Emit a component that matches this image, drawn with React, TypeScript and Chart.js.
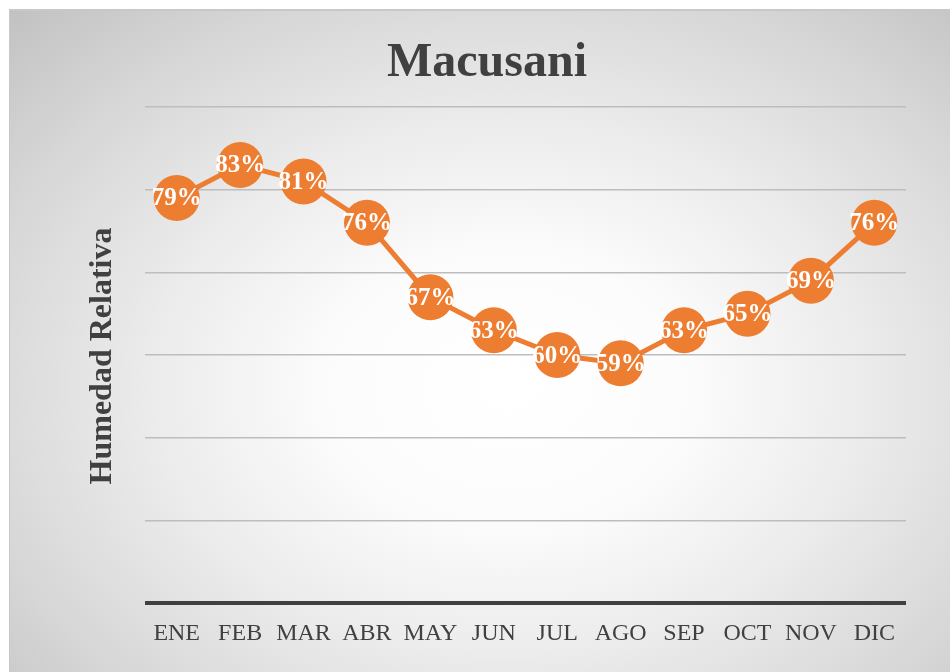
import React, { useEffect, useRef } from "react";
import { Chart, registerables } from "chart.js";

Chart.register(...registerables);

const months = ["ENE", "FEB", "MAR", "ABR", "MAY", "JUN", "JUL", "AGO", "SEP", "OCT", "NOV", "DIC"];
const humidity = [79, 83, 81, 76, 67, 63, 60, 59, 63, 65, 69, 76];
const chartTitle = "Macusani";
const yTitle = "Humedad Relativa";
const yMin = 30;
const yMax = 90;
const yStep = 10;

const ORANGE = "#ED7D31";
const TEXT = "#404040";
const SERIF = "'Liberation Serif', 'Times New Roman', serif";

const overlayPlugin = {
  id: "overlay",
  afterDatasetsDraw(chart: any) {
    const ctx = chart.ctx;
    const meta = chart.getDatasetMeta(0);
    ctx.save();
    ctx.fillStyle = "#ffffff";
    ctx.font = `bold 25px ${SERIF}`;
    ctx.textAlign = "center";
    ctx.textBaseline = "middle";
    meta.data.forEach((pt: any, i: number) => {
      ctx.fillText(`${humidity[i]}%`, pt.x, pt.y + 1);
    });
    ctx.restore();
  },
  afterDraw(chart: any) {
    const ctx = chart.ctx;
    ctx.save();
    ctx.fillStyle = TEXT;
    ctx.textAlign = "center";
    ctx.textBaseline = "alphabetic";
    ctx.font = `bold 48px ${SERIF}`;
    ctx.fillText(chartTitle, 487, 76);
    ctx.translate(111, 356);
    ctx.rotate(-Math.PI / 2);
    ctx.font = `bold 32px ${SERIF}`;
    ctx.fillText(yTitle, 0, 0);
    ctx.restore();
  },
};

export default function App() {
  const ref = useRef<HTMLCanvasElement | null>(null);
  useEffect(() => {
    if (!ref.current) return;
    const chart = new Chart(ref.current, {
      type: "line",
      data: {
        labels: months,
        datasets: [
          {
            data: humidity,
            borderColor: ORANGE,
            backgroundColor: ORANGE,
            borderWidth: 5,
            pointRadius: 23,
            pointHoverRadius: 23,
            pointBackgroundColor: ORANGE,
            pointBorderWidth: 0,
            tension: 0,
          },
        ],
      },
      options: {
        responsive: false,
        animation: false,
        devicePixelRatio: 1,
        layout: { padding: { left: 145, right: 44, top: 107, bottom: 8 } },
        plugins: {
          legend: { display: false },
          title: { display: false },
          tooltip: { enabled: false },
        },
        scales: {
          x: {
            offset: true,
            grid: { display: false, drawTicks: false },
            border: { display: false },
            ticks: {
              color: TEXT,
              padding: 16,
              font: { family: SERIF, size: 24 },
              maxRotation: 0,
              autoSkip: false,
            },
          },
          y: {
            min: yMin,
            max: yMax,
            ticks: { display: false, stepSize: yStep },
            border: { display: false },
            grid: {
              drawTicks: false,
              color: (c: any) => (c.tick && c.tick.value === yMin ? TEXT : "#bdbdbd"),
              lineWidth: (c: any) => (c.tick && c.tick.value === yMin ? 4 : 1.5),
            },
          },
        },
      },
      plugins: [overlayPlugin],
    });
    return () => chart.destroy();
  }, []);

  return (
    <div style={{ position: "absolute", left: 0, top: 0, width: 950, height: 672, background: "#ffffff", overflow: "hidden" }}>
      <div
        style={{
          position: "absolute",
          left: 9,
          top: 9,
          width: 941,
          height: 663,
          boxSizing: "border-box",
          borderTop: "2px solid #c8c8c8",
          borderLeft: "1px solid #c8c8c8",
          background:
            "radial-gradient(ellipse 75% 80% at 53% 57%, #ffffff 0%, #fcfcfc 25%, #ececec 50%, #d6d6d6 78%, #c2c2c2 100%)",
        }}
      />
      <canvas ref={ref} width={950} height={672} style={{ position: "absolute", left: 0, top: 0 }} />
    </div>
  );
}
